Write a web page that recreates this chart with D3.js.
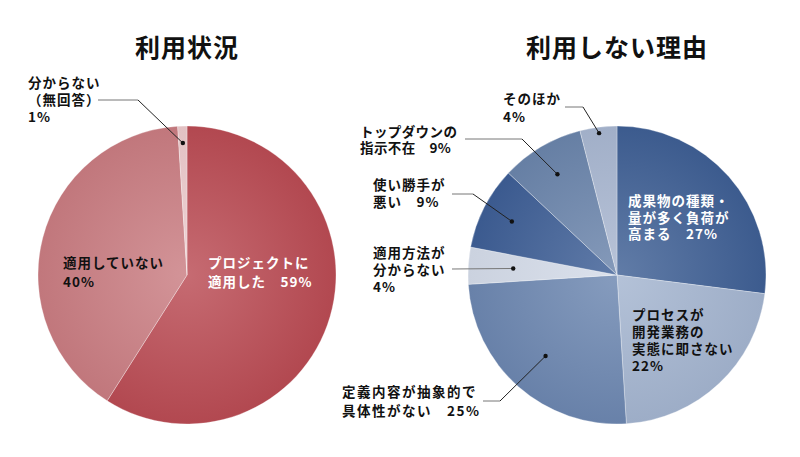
<!DOCTYPE html>
<html>
<head>
<meta charset="utf-8">
<script src="https://cdn.jsdelivr.net/npm/d3@7"></script>
<style>
  body { margin: 0; background: #fff; }
  svg { display: block; font-family: "Noto Sans CJK JP", "Noto Sans", sans-serif; }
</style>
</head>
<body>
<div id="chart"></div>
<script>
// data
var usageTitle = "利用状況";
var usageLabels = [["プロジェクトに", "適用した　59%"], ["適用していない", "40%"], ["分からない", "（無回答）", "1%"]];
var usageValues = [59, 40, 1];
var usageColors = ["#b94b53", "#c97c81", "#ebc9cb"];

var reasonTitle = "利用しない理由";
var reasonLabels = [
  ["成果物の種類・", "量が多く負荷が", "高まる　27%"],
  ["プロセスが", "開発業務の", "実態に即さない", "22%"],
  ["定義内容が抽象的で", "具体性がない　25%"],
  ["適用方法が", "分からない", "4%"],
  ["使い勝手が", "悪い　9%"],
  ["トップダウンの", "指示不在　9%"],
  ["そのほか", "4%"]
];
var reasonValues = [27, 22, 25, 4, 9, 9, 4];
var reasonColors = ["#3e5f94", "#a4b4cf", "#6c86b0", "#d3dbe8", "#3d5e95", "#6a84ab", "#a8b6d0"];

var width = 800, height = 457, radius = 149;

var svg = d3.select("#chart").append("svg")
    .attr("width", width)
    .attr("height", height);

var defs = svg.append("defs");

var pie = d3.pie().sort(null).value(function(d) { return d; });
var arc = d3.arc().innerRadius(0).outerRadius(radius);

// label layout: text position (relative to pie centre), optional elbow for leader line
// dotR = radius where the leader line ends inside the slice
function drawPie(cx, cy, id, title, values, labels, colors, layout) {
  var g = svg.append("g").attr("transform", "translate(" + cx + "," + cy + ")");

  svg.append("text")
      .attr("x", cx).attr("y", 57)
      .attr("text-anchor", "middle")
      .attr("font-size", 25)
      .attr("font-weight", 700)
      .attr("letter-spacing", 1)
      .attr("fill", "#111")
      .text(title);

  colors.forEach(function(c, i) {
    var grad = defs.append("radialGradient")
        .attr("id", id + i)
        .attr("gradientUnits", "userSpaceOnUse")
        .attr("cx", 0).attr("cy", 0).attr("r", radius);
    grad.append("stop").attr("offset", "0%").attr("stop-color", d3.interpolateRgb(c, "#fff")(0.18));
    grad.append("stop").attr("offset", "100%").attr("stop-color", d3.interpolateRgb(c, "#000")(0.04));
  });

  var arcs = pie(values);

  g.selectAll("path.slice")
      .data(arcs)
    .enter().append("path")
      .attr("class", "slice")
      .attr("d", arc)
      .attr("fill", function(d, i) { return "url(#" + id + i + ")"; })
      .attr("stroke", "#fff")
      .attr("stroke-opacity", 0.5)
      .attr("stroke-width", 0.6);

  arcs.forEach(function(d, i) {
    var L = layout[i];
    var t = g.append("text")
        .attr("font-size", 13.5)
        .attr("font-weight", 700)
        .attr("letter-spacing", L.ls == null ? 1 : L.ls)
        .attr("fill", L.fill || "#111");
    labels[i].forEach(function(line, k) {
      t.append("tspan")
          .attr("x", L.x)
          .attr("y", L.y + k * L.lh)
          .text(line);
    });

    if (L.dotR) {
      var a = (d.startAngle + d.endAngle) / 2;
      var dx = Math.sin(a) * L.dotR, dy = -Math.cos(a) * L.dotR;
      var corner = L.elbow || [dx, dy];
      // flat part of the leader is lighter, the slanted part darker
      g.append("path")
          .attr("d", d3.line()([L.start, corner]))
          .attr("fill", "none")
          .attr("stroke", "#777")
          .attr("stroke-width", 1);
      if (L.elbow) {
        g.append("path")
            .attr("d", d3.line()([L.elbow, [dx, dy]]))
            .attr("fill", "none")
            .attr("stroke", "#222")
            .attr("stroke-width", 1);
      }
      g.append("circle")
          .attr("cx", dx).attr("cy", dy)
          .attr("r", 2.2)
          .attr("fill", "#111");
    }
  });
}

drawPie(187, 275, "u", usageTitle, usageValues, usageLabels, usageColors, [
  { x: 21, y: -7, lh: 18.5, fill: "#fff" },
  { x: -124, y: -7, lh: 18.5 },
  { x: -159, y: -187, lh: 17, dotR: 132, start: [-89, -175], elbow: [-49, -175] }
]);

drawPie(617, 275, "r", reasonTitle, reasonValues, reasonLabels, reasonColors, [
  { x: 11, y: -69, lh: 16.5, fill: "#fff" },
  { x: 15, y: 45, lh: 17 },
  { x: -275, y: 122, lh: 19, ls: 1.5, dotR: 108, start: [-134, 126], elbow: [-117, 126] },
  { x: -244, y: -17, lh: 17, dotR: 104, start: [-165, -6] },
  { x: -244, y: -85, lh: 17, dotR: 118, start: [-165, -81], elbow: [-144, -81] },
  { x: -257, y: -138, lh: 16, ls: 0.4, dotR: 117, start: [-152, -136], elbow: [-95, -136] },
  { x: -114, y: -171, lh: 18, dotR: 143, start: [-52, -168], elbow: [-34, -168] }
]);
</script>
</body>
</html>
